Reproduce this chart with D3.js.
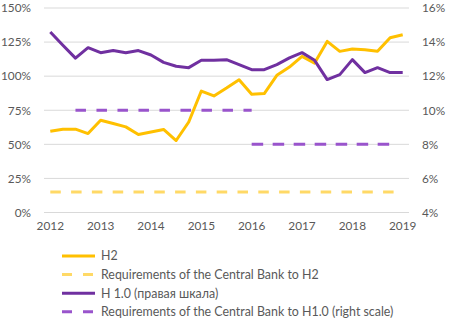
<!DOCTYPE html>
<html>
<head>
<meta charset="utf-8">
<script src="https://cdn.jsdelivr.net/npm/d3@7"></script>
<style>
  body { margin: 0; background: #fff; }
  text { font-family: Lato, "Open Sans", sans-serif; fill: #595959; }
</style>
</head>
<body>
<div id="chart"></div>
<script>
// quarterly periods 2012Q1 .. 2019Q1
const periods = [];
for (let y = 2012; y <= 2019; y++) {
    for (let q = 1; q <= 4; q++) {
        if (y === 2019 && q > 1) break;
        periods.push(y + 'Q' + q);
    }
}
const yearLabels = ['2012', '2013', '2014', '2015', '2016', '2017', '2018', '2019'];

// H2, % (left scale)
const h2 = [59.6, 61.1, 61.1, 57.9, 67.7, 65.3, 62.8, 57.2, 59.1, 60.9,
    52.8, 66.4, 89.1, 85.5, 91.3, 97.4, 86.7, 87.2, 100.6, 106.7,
    114.5, 109.6, 125.5, 118.2, 119.9, 119.4, 118.2, 128.2, 130.4];
// CB requirement for H2, % (left scale)
const h2Req = periods.map(() => 15);

// H1.0, % (right scale)
const h10 = [14.59, 13.81, 13.06, 13.67, 13.38, 13.5, 13.38, 13.5, 13.24, 12.81,
    12.58, 12.5, 12.93, 12.93, 12.97, 12.68, 12.38, 12.38, 12.68, 13.07,
    13.38, 12.93, 11.8, 12.09, 12.97, 12.21, 12.5, 12.21, 12.21];
// CB requirement for H1.0, % (right scale), two periods
const h10ReqHigh = [null, null, 10, 10, 10, 10, 10, 10, 10, 10,
    10, 10, 10, 10, 10, 10, 10, null, null, null,
    null, null, null, null, null, null, null, null, null];
const h10ReqLow = [null, null, null, null, null, null, null, null, null, null,
    null, null, null, null, null, null, 8, 8, 8, 8,
    8, 8, 8, 8, 8, 8, 8, 8, null];

const leftTicks = [0, 25, 50, 75, 100, 125, 150];
const rightTicks = [4, 6, 8, 10, 12, 14, 16];

const width = 454, height = 322;
const plot = { left: 44, right: 409, top: 8, bottom: 212.5 };

const svg = d3.select('#chart').append('svg')
    .attr('width', width)
    .attr('height', height);

const xScale = d3.scaleBand().domain(d3.range(periods.length)).range([plot.left, plot.right]);
const xc = i => xScale(i) + xScale.bandwidth() / 2;
const yLeft = d3.scaleLinear().domain([0, 150]).range([plot.bottom, plot.top]);
const yRight = d3.scaleLinear().domain([4, 16]).range([plot.bottom, plot.top]);

// gridlines
svg.append('g').selectAll('line').data(leftTicks).enter().append('line')
    .attr('x1', plot.left).attr('x2', plot.right)
    .attr('y1', d => yLeft(d)).attr('y2', d => yLeft(d))
    .attr('stroke', '#d9d9d9').attr('stroke-width', 1);

// left axis
const leftAxis = svg.append('g')
    .attr('transform', 'translate(' + (plot.left) + ',0)')
    .call(d3.axisLeft(yLeft).tickValues(leftTicks).tickSize(0).tickPadding(13).tickFormat(d => d + '%'));
leftAxis.select('.domain').remove();

// right axis
const rightAxis = svg.append('g')
    .attr('transform', 'translate(' + (plot.right) + ',0)')
    .call(d3.axisRight(yRight).tickValues(rightTicks).tickSize(0).tickPadding(13).tickFormat(d => d + '%'));
rightAxis.select('.domain').remove();

// bottom axis
const xAxis = svg.append('g')
    .attr('transform', 'translate(0,' + plot.bottom + ')')
    .call(d3.axisBottom(xScale)
        .tickValues(d3.range(0, periods.length, 4))
        .tickSize(0).tickPadding(9)
        .tickFormat(i => yearLabels[i / 4]));
xAxis.select('.domain').remove();

svg.selectAll('.tick text').style('font-size', '11.8px').style('fill', '#595959')
    .style('font-family', 'Lato, "Open Sans", sans-serif');

function drawLine(values, yScale, color, dash) {
    const line = d3.line()
        .defined(d => d !== null)
        .x((d, i) => xc(i))
        .y(d => yScale(d));
    svg.append('path')
        .datum(values)
        .attr('d', line)
        .attr('fill', 'none')
        .attr('stroke', color)
        .attr('stroke-width', 3)
        .attr('stroke-linejoin', 'round')
        .attr('stroke-dasharray', dash || null);
}

drawLine(h2Req, yLeft, '#ffd966', '10.5,10.3');
drawLine(h10ReqHigh, yRight, '#9954cc', '10.5,10.5');
drawLine(h10ReqLow, yRight, '#9954cc', '11.5,9.5');
drawLine(h2, yLeft, '#ffc000');
drawLine(h10, yRight, '#7030a0');

// legend
const legendItems = [
    { label: 'Н2', color: '#ffc000', dash: null },
    { label: 'Requirements of the Central Bank to H2', color: '#ffd966', dash: '10,11' },
    { label: 'Н 1.0 (правая шкала)', color: '#7030a0', dash: null },
    { label: 'Requirements of the Central Bank to H1.0 (right scale)', color: '#9954cc', dash: '10,11' }
];
const legend = svg.append('g').attr('transform', 'translate(62,256)');
legendItems.forEach((d, i) => {
    const g = legend.append('g').attr('transform', 'translate(0,' + (i * 18.6) + ')');
    g.append('line')
        .attr('x1', 0).attr('x2', 33).attr('y1', 0).attr('y2', 0)
        .attr('stroke', d.color).attr('stroke-width', 3)
        .attr('stroke-dasharray', d.dash);
    g.append('text')
        .attr('x', 39).attr('y', 0).attr('dy', '0.35em')
        .style('font-size', '12.4px')
        .text(d.label);
});
</script>
</body>
</html>
